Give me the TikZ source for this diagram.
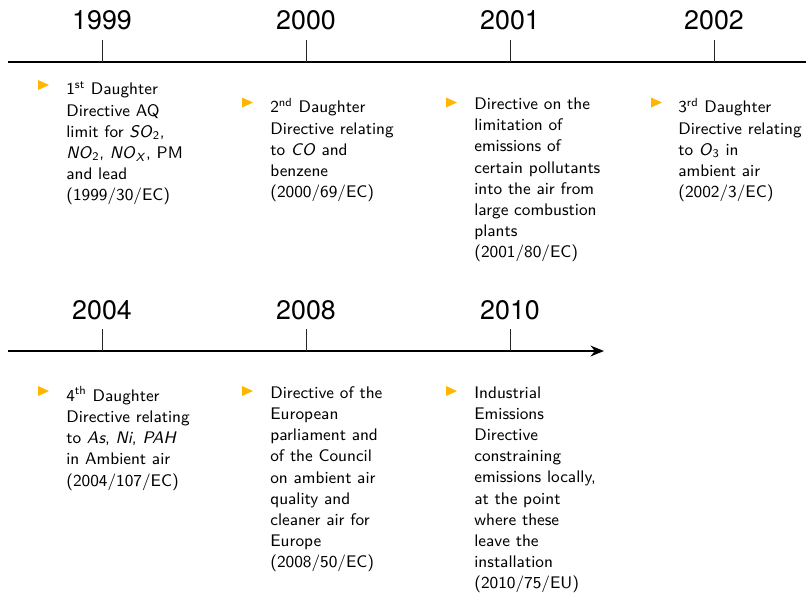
\documentclass[tikz,border=0pt]{standalone}
\usepackage{fontspec}
\newfontfamily\yearfont{TeX Gyre Heros}
\usepackage{tikz}
\usetikzlibrary{arrows.meta,calc}

\definecolor{bulletorange}{RGB}{255,182,0}

\tikzset{
  axisline/.style={line width=1.4pt,black},
  tickline/.style={line width=0.55pt,gray!30!black},
  yearlabel/.style={font=\yearfont\fontsize{15}{16}\selectfont,anchor=base,inner sep=0pt},
  itemtext/.style={font=\sffamily\fontsize{9.4}{11.87}\selectfont,anchor=north west,yshift=6.7pt,
    align=left,inner sep=0pt,execute at begin node=\strut},
  itembullet/.style={fill=bulletorange}
}

\begin{document}
\begin{tikzpicture}[x=0.56pt,y=-0.56pt]
    \useasboundingbox (0,0) rectangle (806,593);

    % first time line
    \draw [axisline] (8,62)--(806,62);
    \draw [tickline] (102,40)--(102,62);
    \draw [tickline] (306,40)--(306,62);
    \draw [tickline] (510,40)--(510,62);
    \draw [tickline] (714,40)--(714,62);
    \node [yearlabel] (y1999) at (102,29.5) {1999};
    \node [yearlabel] (y2000) at (306,29.5) {2000};
    \node [yearlabel] (y2001) at (510,29.5) {2001};
    \node [yearlabel] (y2002) at (714,29.5) {2002};

    \coordinate (i1999) at (66,93);
    \coordinate (i2000) at (270,109.5);
    \coordinate (i2001) at (474,109.5);
    \coordinate (i2002) at (678,109.5);

    \node [itemtext] (t1999) at (i1999) {1\textsuperscript{st} Daughter\\Directive AQ\\limit for \textit{SO}\textsubscript{2},\\\textit{NO}\textsubscript{2}, \textit{NO}\textsubscript{\textit{X}}, PM\\and lead\\(1999/30/EC)};
    \node [itemtext] (t2000) at (i2000) {2\textsuperscript{nd} Daughter\\Directive relating\\to \textit{CO} and\\benzene\\(2000/69/EC)};
    \node [itemtext] (t2001) at (i2001) {Directive on the\\limitation of\\emissions of\\certain pollutants\\into the air from\\large combustion\\plants\\(2001/80/EC)};
    \node [itemtext] (t2002) at (i2002) {3\textsuperscript{rd} Daughter\\Directive relating\\to \textit{O}\textsubscript{3} in\\ambient air\\(2002/3/EC)};

    \fill [itembullet] ($(i1999)+(-28,-13)$)--++(11,5)--++(-11,5)--cycle;
    \fill [itembullet] ($(i2000)+(-28,-12)$)--++(11,5)--++(-11,5)--cycle;
    \fill [itembullet] ($(i2001)+(-28,-12)$)--++(11,5)--++(-11,5)--cycle;
    \fill [itembullet] ($(i2002)+(-27,-12)$)--++(11,5)--++(-11,5)--cycle;

    % second time line
    \draw [axisline,-{Stealth[length=7.5pt,width=6pt]}] (8,351)--(604,351);
    \draw [tickline] (102,329)--(102,351);
    \draw [tickline] (306,329)--(306,351);
    \draw [tickline] (510,329)--(510,351);
    \node [yearlabel] (y2004) at (102,319.5) {2004};
    \node [yearlabel] (y2008) at (306,319.5) {2008};
    \node [yearlabel] (y2010) at (510,319.5) {2010};

    \coordinate (i2004) at (66,398);
    \coordinate (i2008) at (270,398);
    \coordinate (i2010) at (474,398);

    \node [itemtext] (t2004) at (i2004) {4\textsuperscript{th} Daughter\\Directive relating\\to \textit{As}, \textit{Ni}, \textit{PAH}\\in Ambient air\\(2004/107/EC)};
    \node [itemtext] (t2008) at (i2008) {Directive of the\\European\\parliament and\\of the Council\\on ambient air\\quality and\\cleaner air for\\Europe\\(2008/50/EC)};
    \node [itemtext] (t2010) at (i2010) {Industrial\\Emissions\\Directive\\constraining\\emissions locally,\\at the point\\where these\\leave the\\installation\\(2010/75/EU)};

    \fill [itembullet] ($(i2004)+(-28,-12)$)--++(11,5)--++(-11,5)--cycle;
    \fill [itembullet] ($(i2008)+(-28,-12)$)--++(11,5)--++(-11,5)--cycle;
    \fill [itembullet] ($(i2010)+(-28,-12)$)--++(11,5)--++(-11,5)--cycle;
\end{tikzpicture}
\end{document}
